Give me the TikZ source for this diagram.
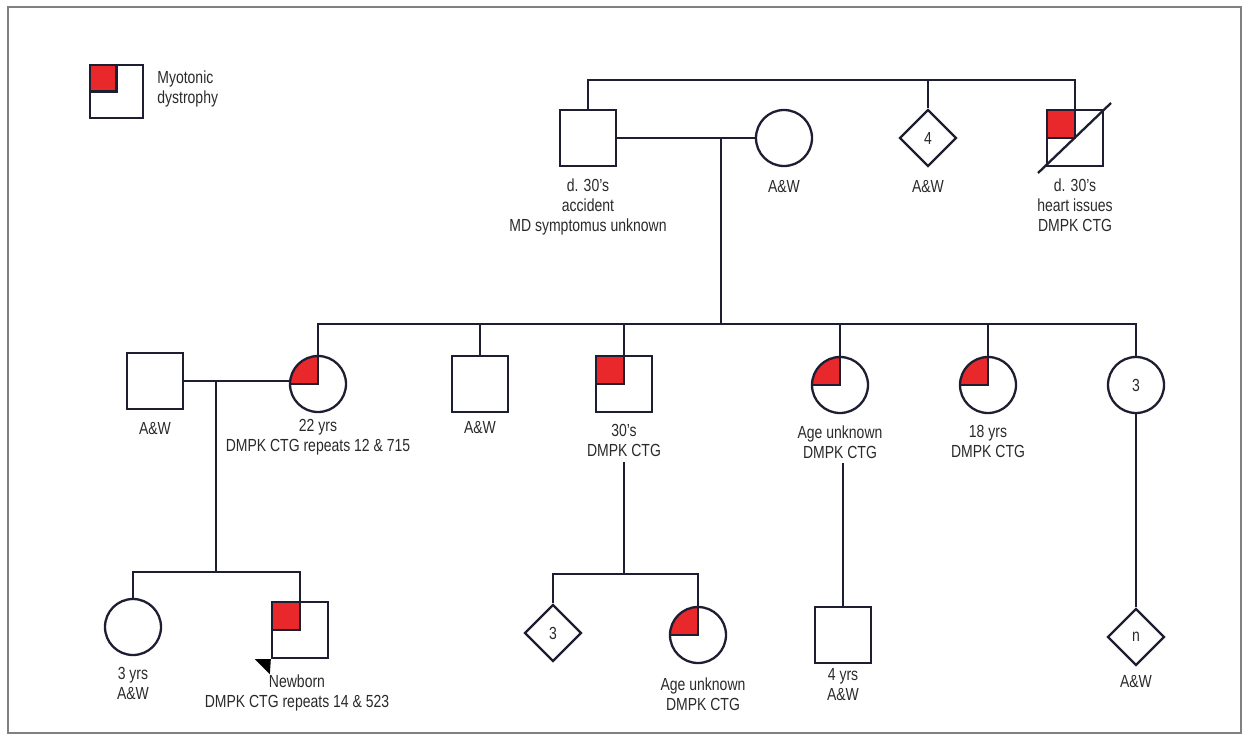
\documentclass[tikz,border=0pt]{standalone}
\usepackage{fontspec}
\setmainfont{Liberation Sans}[FakeStretch=0.8]
\usepackage{xcolor}
\usepackage{tikz}
\usetikzlibrary{positioning,shapes.geometric}
\definecolor{mdred}{HTML}{E8282B}
\definecolor{pedline}{HTML}{1E1E33}
\definecolor{labeltext}{HTML}{2A2A2A}
\definecolor{framegray}{HTML}{808080}

\begin{document}
\begin{tikzpicture}[
        x=1pt,y=-1pt,
        font=\fontsize{17.5}{20}\selectfont,
        every node/.style={text=labeltext},
        conn/.style={draw=pedline,line width=2.3pt},
        male/.style={rectangle,draw=pedline,line width=2.3pt,fill=white,minimum size=56pt,inner sep=0pt},
        female/.style={circle,draw=pedline,line width=2.3pt,fill=white,minimum size=56pt,inner sep=0pt},
        sexunknown/.style={diamond,draw=pedline,line width=2.3pt,fill=white,minimum size=57pt,inner sep=0pt},
        affected/.style={path picture={
            \fill[mdred] (path picture bounding box.center) rectangle (path picture bounding box.north west);
            \draw[pedline,line width=2.3pt] (path picture bounding box.north) |- (path picture bounding box.west);}},
        lbl/.style={align=center,inner sep=0pt}
    ]
    \useasboundingbox (0,0) rectangle (1249,740);
    \draw[framegray,line width=1.2pt] (8,7) rectangle (1241,733);

    % legend
    \node[male,affected,minimum size=53pt] (legend) at (116.5,91.5) {};
    \node[lbl,align=left,right=13pt of legend,yshift=3pt] (legend-txt) {Myotonic\\dystrophy};

    % generation I
    \node[male] (gf) at (588,138) {};
    \node[female] (gm) at (784,138) {};
    \node[sexunknown] (sibs4) at (928,138) {4};
    \node[male,affected] (uncle) at (1075,138) {};
    \draw[conn] (uncle.center) ++(-37,35) -- ++(73,-70);
    \coordinate (sibI) at (928,80);
    \coordinate (mateI) at (721,138);
    \draw[conn] (gf.north) |- (sibI) -| (uncle.north);
    \draw[conn] (sibs4.north) -- (sibI);
    \draw[conn] (gf) -- (gm);

    \node[lbl,below=11pt of gf] (gf-txt) {d. 30’s\\accident\\MD symptomus unknown};
    \node[lbl,below=13pt of gm] (gm-txt) {A\&W};
    \node[lbl,below=13pt of sibs4] (sibs4-txt) {A\&W};
    \node[lbl,below=11pt of uncle] (uncle-txt) {d. 30’s\\heart issues\\DMPK CTG};

    % generation II
    \coordinate (sibII) at (721,324);
    \draw[conn] (mateI) -- (sibII);
    \node[male] (husb) at (155,381) {};
    \node[female,affected] (d22) at (318,384) {};
    \node[male] (son1) at (480,384) {};
    \node[male,affected] (son30) at (624,384) {};
    \node[female,affected] (dauAU) at (840,385) {};
    \node[female,affected] (d18) at (988,385) {};
    \node[female] (dau3) at (1136,385) {3};
    \draw[conn] (d22.north) |- (sibII) -| (dau3.north);
    \foreach \c in {son1,son30,dauAU,d18}
        \draw[conn] (\c.north) -- (\c.north |- sibII);
    \coordinate (mateII) at (216,381);
    \draw[conn] (husb.east) -- (husb.east -| d22.west);

    \node[lbl,below=12pt of husb] (husb-txt) {A\&W};
    \node[lbl,below=6pt of d22] (d22-txt) {22 yrs\\DMPK CTG repeats 12 \& 715};
    \node[lbl,below=8pt of son1] (son1-txt) {A\&W};
    \node[lbl,below=11pt of son30] (son30-txt) {30’s\\DMPK CTG};
    \node[lbl,below=11pt of dauAU] (dauAU-txt) {Age unknown\\DMPK CTG};
    \node[lbl,below=11pt of d18] (d18-txt) {18 yrs\\DMPK CTG};

    % generation III
    \coordinate (sibIIIa) at (216,572);
    \draw[conn] (mateII) -- (sibIIIa);
    \node[female] (gd3) at (133,627) {};
    \node[male,affected] (proband) at (300,630) {};
    \draw[conn] (gd3.north) |- (sibIIIa) -| (proband.north);
    \fill[black] (proband.south west) ++(-16,0) -- (proband.south west) -- ++(-1,15) -- cycle;

    \coordinate (down30) at (624,462);
    \coordinate (sibIIIb) at (624,574);
    \draw[conn] (down30) -- (sibIIIb);
    \node[sexunknown] (gc3) at (553,633) {3};
    \node[female,affected] (gdau) at (698,635) {};
    \draw[conn] (gc3.north) |- (sibIIIb) -| (gdau.north);

    \coordinate (downAU) at (843,463);
    \node[male] (gs4) at (843,635) {};
    \draw[conn] (downAU) -- (gs4.north);
    \node[sexunknown] (gcn) at (1136,637) {n};
    \draw[conn] (dau3.south) -- (gcn.north);

    \node[lbl,below=11pt of gd3] (gd3-txt) {3 yrs\\A\&W};
    \node[lbl,below=15pt of proband,xshift=-3pt] (proband-txt) {Newborn\\DMPK CTG repeats 14 \& 523};
    \node[lbl,below=13pt of gdau,xshift=5pt] (gdau-txt) {Age unknown\\DMPK CTG};
    \node[lbl,below=4pt of gs4] (gs4-txt) {4 yrs\\A\&W};
    \node[lbl,below=9pt of gcn] (gcn-txt) {A\&W};
\end{tikzpicture}
\end{document}
